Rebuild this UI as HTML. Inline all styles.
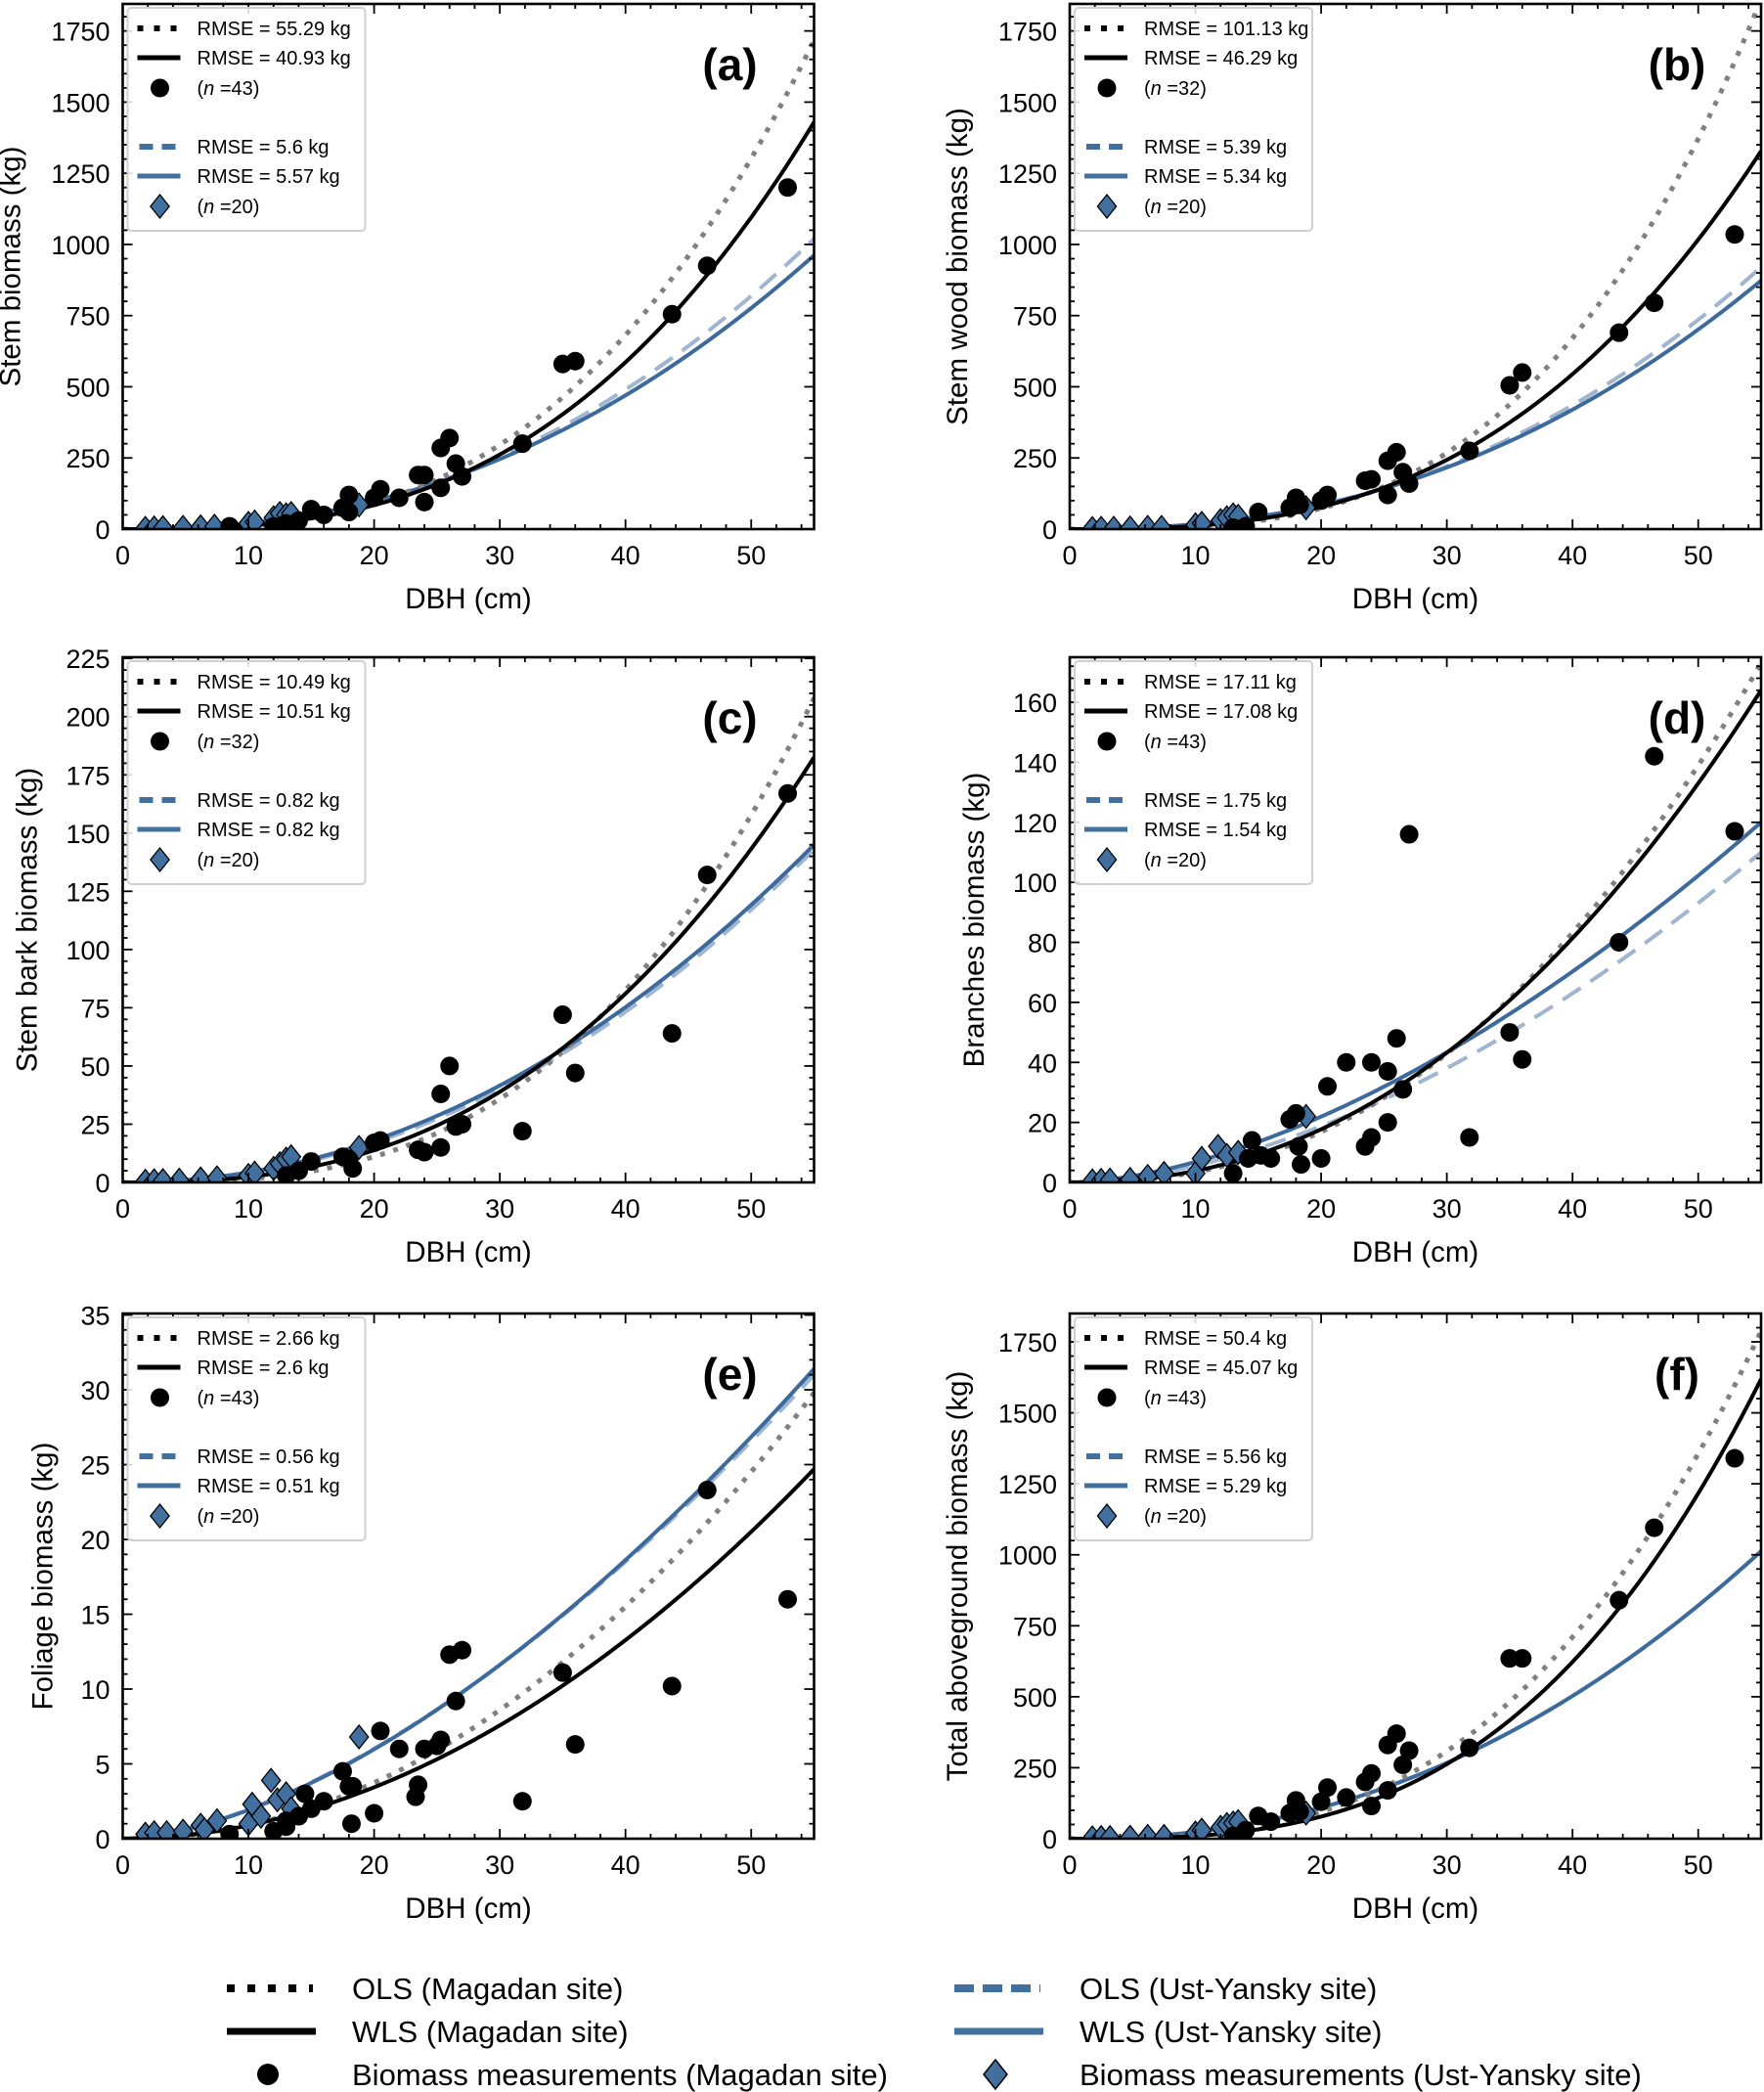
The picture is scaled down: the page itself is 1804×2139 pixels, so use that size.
<!DOCTYPE html>
<html><head><meta charset="utf-8"><style>
html,body{margin:0;padding:0;background:#fff;}
svg{display:block;font-family:"Liberation Sans",sans-serif;}
</style></head><body>
<svg id="fig" width="1804" height="2139" viewBox="0 0 1804 2139" xmlns="http://www.w3.org/2000/svg"></svg>
<script>
// ---------- data ----------
const panelIds = ['a','b','c','d','e','f'];
const yTitles = ['Stem biomass (kg)','Stem wood biomass (kg)','Stem bark biomass (kg)','Branches biomass (kg)','Foliage biomass (kg)','Total aboveground biomass (kg)'];
const yMax = [1845,1845,225.5,175,35.1,1850];
const yMajor = [250,250,25,20,5,250];
const yMinor = [50,50,5,4,1,50];
const rmseOlsM = ['55.29','101.13','10.49','17.11','2.66','50.4'];
const rmseWlsM = ['40.93','46.29','10.51','17.08','2.6','45.07'];
const nM = [43,32,32,43,43,43];
const rmseOlsU = ['5.6','5.39','0.82','1.75','0.56','5.56'];
const rmseWlsU = ['5.57','5.34','0.82','1.54','0.51','5.29'];
const nU = [20,20,20,20,20,20];
// fitted curves: value at DBH = 55 cm and exponent
const olsMEnd = [1717,1860,208,173,29.8,1788];
const olsMExp = [2.9,3.2,2.9,2.3,2.05,2.9];
const wlsMEnd = [1430,1328,182.6,164,24.7,1619];
const wlsMExp = [2.8,2.8,2.55,2.2,1.95,3.0];
const olsUEnd = [1020,920,143,110,31.0,1013];
const olsUExp = [2.3,2.35,2.1,1.75,1.62,2.2];
const wlsUEnd = [962,873,145,120,31.4,1013];
const wlsUExp = [2.25,2.3,2.06,1.68,1.64,2.2];
// measurements Magadan
const magD = [
 [8.5,12,13,14,15,16,17.5,18,18,20,20.5,22,23.5,24,24,25.3,25.3,26,26.5,27,31.8,35,36,43.7,46.5,52.9],
 [13,14,15,17.5,18,18.3,20,20.5,23.5,24,25.3,25.3,26,26.5,27,31.8,35,36,43.7,46.5,52.9],
 [13,14,15,17.5,18,18.3,20,20.5,23.5,24,25.3,25.3,26,26.5,27,31.8,35,36,43.7,46.5,52.9],
 [13,14.2,14.5,15.2,16,17.5,18,18.2,18.4,20,20.5,22,23.5,24,24,25.3,25.3,26,26.5,27,31.8,35,36,43.7,46.5,52.9],
 [8.5,12,13,13,14,14.5,15,16,17.5,18,18.2,18.3,20,20.5,22,23.3,23.5,24,25,25.3,26,26.5,27,31.8,35,36,43.7,46.5,52.9],
 [13,14,15,16,17.5,18,18.3,20,20.5,22,23.5,24,24,25.3,25.3,26,26.5,27,31.8,35,36,43.7,46.5,52.9]];
const magY = [
 [10,10,20,30,70,50,75,120,60,110,140,110,190,190,95,145,285,320,230,185,300,580,590,755,925,1200],
 [5,10,60,75,110,85,100,120,170,175,120,240,270,200,160,275,505,550,690,795,1035],
 [3,5,9,11,10,6,17,18,14,13,15,38,50,24,25,22,72,47,64,132,167],
 [3,8,14,9,8,21,23,12,6,8,32,40,12,40,15,20,37,48,31,116,15,50,41,80,142,117],
 [0.3,0.5,0.8,1.2,1.5,3,2,2.5,4.5,3.5,1,3.5,1.7,7.2,6,2.8,3.6,6,6.2,6.6,12.3,9.2,12.6,2.5,11.1,6.3,10.2,23.3,16],
 [10,30,80,60,90,135,95,130,180,145,200,115,230,170,330,370,260,310,320,635,635,840,1095,1340]];
// measurements Ust-Yansky
const ustD = [
 [1.8,2.5,3.2,4.8,6.2,7.3,10,10.5,12,12.5,13,13.4,18.8],
 [1.8,2.5,3.5,4.8,6.2,7.3,10,10.5,12,12.5,13,13.4,18.8],
 [1.8,2.5,3.2,4.5,6.2,7.5,10,10.5,12,12.5,13,13.4,18.8],
 [1.8,2.5,3.2,4.8,6.2,7.5,10,10.5,11.8,12.5,13.4,18.8],
 [1.8,2.5,3.5,4.8,6.2,6.5,7.5,10,10.3,11,11.8,12.3,13,13.4,18.8],
 [1.8,2.5,3.2,4.8,6.2,7.5,10,10.5,12,12.5,13,13.4,18.8]];
const ustY = [
 [3,4,5,6,8,10,20,25,40,55,50,55,85],
 [2,3,3,4,6,6,15,20,30,40,50,45,75],
 [0.5,0.7,0.8,1,1.5,2,3,4,6,8,10,11,15],
 [0.5,0.7,0.8,1,2,3,3,8,12,9,10,22],
 [0.3,0.4,0.4,0.5,0.9,0.6,1.2,1,2.3,1.5,3.9,2.6,3,2,6.8],
 [3,4,4,5,8,8,20,30,40,50,55,60,90]];
const xTicks = [0,10,20,30,40,50];

// ---------- layout ----------
const NS='http://www.w3.org/2000/svg';
const svg=document.getElementById('fig');
const colL=[125.5,1094], colW=707, rowT=[4,672,1343], rowH=537;
const yTitleOff=[115,115,98,98,82,115];
const BLUE='#3d6a9c';
function mk(tag,attrs,parent){const e=document.createElementNS(NS,tag);for(const k in attrs)e.setAttribute(k,attrs[k]);(parent||svg).appendChild(e);return e;}

panelIds.forEach((pid,i)=>{
  const L=colL[i%2], T=rowT[Math.floor(i/2)], R=L+colW, B=T+rowH;
  const xs=d=>L+d/55*colW;
  const ys=v=>B-v/yMax[i]*rowH;
  const g=mk('g',{});
  
  
  const cid='clip'+pid;
  const cp=mk('clipPath',{id:cid},g); mk('rect',{x:L,y:T,width:colW,height:rowH},cp);
  const plot=mk('g',{'clip-path':'url(#'+cid+')'},g);
  function curve(end,ex,style,name){
    let d='';
    for(let k=0;k<=220;k++){const D=k*55/220;const v=end*Math.pow(D/55,ex);d+=(k?'L':'M')+xs(D).toFixed(2)+','+ys(v).toFixed(2);}
    const p=mk('path',Object.assign({d:d,fill:'none'},style),plot);
    
    
  }
  curve(olsUEnd[i],olsUExp[i],{stroke:'#9fb5d0','stroke-width':4,'stroke-dasharray':'22,12'},'ols-ust-yansky-curve');
  curve(wlsUEnd[i],wlsUExp[i],{stroke:BLUE,'stroke-width':4},'wls-ust-yansky-curve');
  curve(olsMEnd[i],olsMExp[i],{stroke:'#808080','stroke-width':5,'stroke-dasharray':'5,9'},'ols-magadan-curve');
  curve(wlsMEnd[i],wlsMExp[i],{stroke:'#000','stroke-width':4},'wls-magadan-curve');
  ustD[i].forEach((D,k)=>{
    const x=xs(D),y=ys(ustY[i][k]),r=12;
    const p=mk('polygon',{points:`${x},${y-r} ${x+r*0.8},${y} ${x},${y+r} ${x-r*0.8},${y}`,fill:'#41709f',stroke:'#000','stroke-width':1.3},plot);
    
    
  });
  magD[i].forEach((D,k)=>{
    const c=mk('circle',{cx:xs(D),cy:ys(magY[i][k]),r:9.5,fill:'#000'},plot);
    
    
  });
  for(let t=0;t<=55;t+=2){const x=xs(t);const maj=(t%10===0);const len=maj?10:5;
    mk('line',{x1:x,x2:x,y1:B,y2:B-len,stroke:'#000','stroke-width':1.8},g);
    mk('line',{x1:x,x2:x,y1:T,y2:T+len,stroke:'#000','stroke-width':1.8},g);}
  xTicks.forEach(t=>{const tx=mk('text',{x:xs(t),y:B+36,'text-anchor':'middle','font-size':27},g);tx.textContent=t;
    });
  const nmin=Math.round(yMajor[i]/yMinor[i]);
  for(let k=0;k*yMinor[i]<=yMax[i]+1e-9;k++){const v=k*yMinor[i];const y=ys(v);const maj=(k%nmin===0);const len=maj?10:5;
    mk('line',{x1:L,x2:L+len,y1:y,y2:y,stroke:'#000','stroke-width':1.8},g);
    mk('line',{x1:R,x2:R-len,y1:y,y2:y,stroke:'#000','stroke-width':1.8},g);
    if(maj){const tx=mk('text',{x:L-13,y:y+10,'text-anchor':'end','font-size':27},g);tx.textContent=Math.round(v*100)/100;
      }}
  mk('rect',{x:L,y:T,width:colW,height:rowH,fill:'none',stroke:'#000','stroke-width':2.6},g);
  const xt=mk('text',{x:L+colW/2,y:B+81,'text-anchor':'middle','font-size':29.5},g);xt.textContent='DBH (cm)';
  
  const yx=L-yTitleOff[i], yy=T+rowH/2;
  const yt=mk('text',{x:yx,y:yy,'text-anchor':'middle','font-size':29.5,transform:`rotate(-90 ${yx} ${yy})`,dy:10},g);yt.textContent=yTitles[i];
  
  const pl=mk('text',{x:R-86,y:T+78,'text-anchor':'middle','font-size':46,'font-weight':'bold'},g);pl.textContent='('+pid+')';
  
  const lg=mk('g',{},g);
  
  
  const LX=L+5, LT=T+4;
  mk('rect',{x:LX,y:LT,width:243,height:228,rx:4,fill:'#fff','fill-opacity':0.85,stroke:'#d0d0d0','stroke-width':2},lg);
  const rows=[21,51,82,142,172,203];
  const texts=['RMSE = '+rmseOlsM[i]+' kg','RMSE = '+rmseWlsM[i]+' kg','n','RMSE = '+rmseOlsU[i]+' kg','RMSE = '+rmseWlsU[i]+' kg','n'];
  const x0=LX+10,x1=LX+52;
  mk('line',{x1:x0,x2:x1,y1:LT+rows[0],y2:LT+rows[0],stroke:'#000','stroke-width':6,'stroke-dasharray':'6,11'},lg);
  mk('line',{x1:x0,x2:x1+2,y1:LT+rows[1],y2:LT+rows[1],stroke:'#000','stroke-width':5},lg);
  mk('circle',{cx:LX+33,cy:LT+rows[2],r:9.5,fill:'#000'},lg);
  mk('line',{x1:x0+2,x2:x1,y1:LT+rows[3],y2:LT+rows[3],stroke:'#41709f','stroke-width':6,'stroke-dasharray':'14,9'},lg);
  mk('line',{x1:x0,x2:x1+2,y1:LT+rows[4],y2:LT+rows[4],stroke:'#41709f','stroke-width':5},lg);
  {const x=LX+33,y=LT+rows[5],r=12;mk('polygon',{points:`${x},${y-r} ${x+r*0.8},${y} ${x},${y+r} ${x-r*0.8},${y}`,fill:'#41709f',stroke:'#000','stroke-width':1.3},lg);}
  rows.forEach((ry,k)=>{
    const t=mk('text',{x:LX+71,y:LT+ry+7,'font-size':20},lg);
    if(texts[k]==='n'){t.innerHTML='(<tspan font-style="italic">n</tspan> ='+(k===2?nM[i]:nU[i])+')';}
    else t.textContent=texts[k];
  });
});

const bl=mk('g',{});


const items=[
 ['OLS (Magadan site)',232,2033,'dot'],['WLS (Magadan site)',232,2077,'solid'],['Biomass measurements (Magadan site)',232,2121,'circle'],
 ['OLS (Ust-Yansky site)',976,2033,'bdash'],['WLS (Ust-Yansky site)',976,2077,'bsolid'],['Biomass measurements (Ust-Yansky site)',976,2121,'diamond']];
items.forEach(([label,x,y,kind])=>{
  const x2=x+88;
  if(kind==='dot')mk('line',{x1:x,x2:x2,y1:y,y2:y,stroke:'#000','stroke-width':8,'stroke-dasharray':'8,13'},bl);
  if(kind==='solid')mk('line',{x1:x,x2:x2+3,y1:y,y2:y,stroke:'#000','stroke-width':7},bl);
  if(kind==='circle')mk('circle',{cx:x+42,cy:y,r:11,fill:'#000'},bl);
  if(kind==='bdash')mk('line',{x1:x,x2:x2,y1:y,y2:y,stroke:'#41709f','stroke-width':8,'stroke-dasharray':'20,9'},bl);
  if(kind==='bsolid')mk('line',{x1:x,x2:x2+3,y1:y,y2:y,stroke:'#41709f','stroke-width':7},bl);
  if(kind==='diamond'){const cx=x+42,r=15;mk('polygon',{points:`${cx},${y-r} ${cx+r*0.8},${y} ${cx},${y+r} ${cx-r*0.8},${y}`,fill:'#41709f',stroke:'#000','stroke-width':1.5},bl);}
  const t=mk('text',{x:x+128,y:y+11,'font-size':31},bl);t.textContent=label;
  
});
</script>
</body></html>
